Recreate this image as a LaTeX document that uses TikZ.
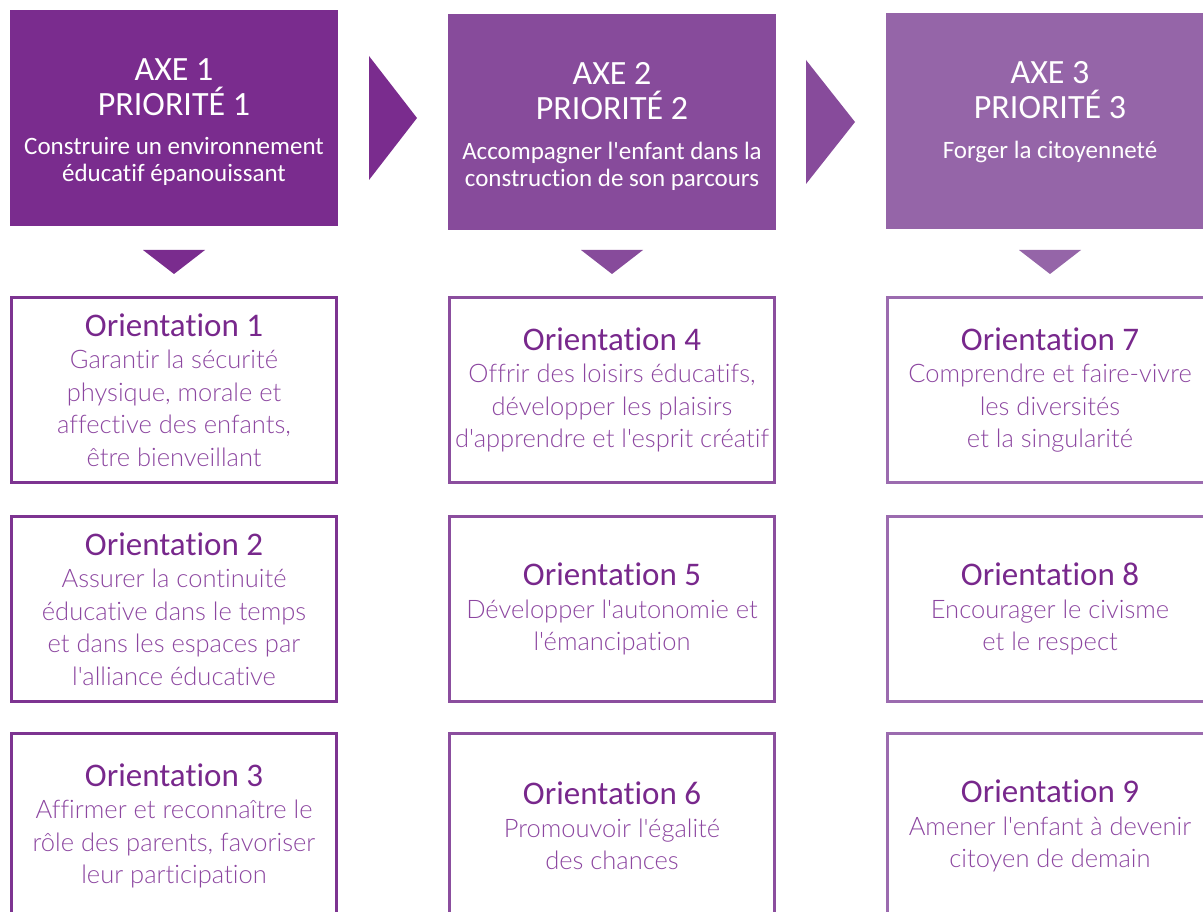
\documentclass[tikz,border=0pt]{standalone}
\usepackage{fontspec}
\newfontfamily\headfont{Carlito}[Ligatures=NoCommon]
\newfontfamily\bodyfont{Lato Light}[Ligatures=NoCommon]
\usetikzlibrary{positioning,calc}
\definecolor{axeA}{RGB}{122,44,142}
\definecolor{axeB}{RGB}{135,75,155}
\definecolor{axeC}{RGB}{149,101,168}
\definecolor{lineA}{RGB}{125,52,145}
\definecolor{lineB}{RGB}{139,78,158}
\definecolor{lineC}{RGB}{155,107,175}
\definecolor{titlePurple}{RGB}{120,40,140}
\definecolor{textPurple}{RGB}{140,70,160}
\newcommand{\oritit}[1]{{\headfont\fontsize{33}{33}\selectfont\color{titlePurple}#1}}
\tikzset{
  axebox/.style={minimum width=328pt, minimum height=216pt,
    inner sep=0pt, outer sep=0pt},
  axehead/.style={anchor=north, inner sep=0pt, align=center, text=white,
    font=\headfont\fontsize{34}{35}\selectfont},
  axesub/.style={inner sep=0pt, align=center, text=white,
    font=\headfont\fontsize{25}{27}\selectfont},
  oribox/.style={draw, line width=3pt, minimum width=325pt,
    minimum height=185pt, inner sep=0pt, align=center, text=textPurple,
    font=\bodyfont\fontsize{25.5}{32.5}\selectfont}
}

\begin{document}
\begin{tikzpicture}[x=1pt,y=-1pt]
  \useasboundingbox (0,0) rectangle (1203,912);
  \clip (0,0) rectangle (1203,912);
  % Axes (header boxes)
  \node[axebox, fill=axeA] (axe1) at (174,118) {};
  \node[axebox, fill=axeB] (axe2) at (612,122) {};
  \node[axebox, fill=axeC] (axe3) at (1050,121) {};
  \node[axehead] (head1) at ($(axe1.north)+(0,48)$) {AXE 1\\PRIORITÉ 1};
  \node[axehead] (head2) at ($(axe2.north)+(0,48)$) {AXE 2\\PRIORITÉ 2};
  \node[axehead] (head3) at ($(axe3.north)+(0,48)$) {AXE 3\\PRIORITÉ 3};
  \node[axesub, below=22pt of head1] (sub1)
    {Construire un environnement\\éducatif épanouissant};
  \node[axesub, below=22pt of head2] (sub2)
    {Accompagner l'enfant dans la\\construction de son parcours};
  \node[axesub, below=22pt of head3] (sub3) {Forger la citoyenneté};
  % Orientations
  \node[oribox, draw=lineA] (ori1) at (174,390)
    {\oritit{Orientation 1}\\Garantir la sécurité\\physique, morale et\\
     affective des enfants,\\être bienveillant};
  \node[oribox, draw=lineA] (ori2) at (174,609)
    {\oritit{Orientation 2}\\Assurer la continuité\\éducative dans le temps\\
     et dans les espaces par\\l'alliance éducative};
  \node[oribox, draw=lineA] (ori3) at (174,826)
    {\oritit{Orientation 3}\\Affirmer et reconnaître le\\
     rôle des parents, favoriser\\leur participation};
  \node[oribox, draw=lineB] (ori4) at (612,390)
    {\oritit{Orientation 4}\\Offrir des loisirs éducatifs,\\
     développer les plaisirs\\d'apprendre et l'esprit créatif};
  \node[oribox, draw=lineB] (ori5) at (612,609)
    {\oritit{Orientation 5}\\Développer l'autonomie et\\l'émancipation};
  \node[oribox, draw=lineB] (ori6) at (612,826)
    {\oritit{Orientation 6}\\Promouvoir l'égalité\\des chances};
  \node[oribox, draw=lineC] (ori7) at (1050,390)
    {\oritit{Orientation 7}\\Comprendre et faire-vivre\\les diversités\\
     et la singularité};
  \node[oribox, draw=lineC] (ori8) at (1050,609)
    {\oritit{Orientation 8}\\Encourager le civisme\\et le respect};
  \node[oribox, draw=lineC] (ori9) at (1050,826)
    {\oritit{Orientation 9}\\Amener l'enfant à devenir\\citoyen de demain};
  % Arrows between axes
  \fill[axeA] ($(axe1.east)+(31,-62)$) -- ++(0,124) -- ++(48,-62) -- cycle;
  \fill[axeB] ($(axe2.east)+(30,-62)$) -- ++(0,124) -- ++(49,-62) -- cycle;
  % Arrows down to orientations
  \fill[axeA] ($(ori1.north)+(-31,-46)$) -- ++(62,0) -- ++(-31,24) -- cycle;
  \fill[axeB] ($(ori4.north)+(-31,-46)$) -- ++(62,0) -- ++(-31,24) -- cycle;
  \fill[axeC] ($(ori7.north)+(-31,-46)$) -- ++(62,0) -- ++(-31,24) -- cycle;
\end{tikzpicture}
\end{document}
